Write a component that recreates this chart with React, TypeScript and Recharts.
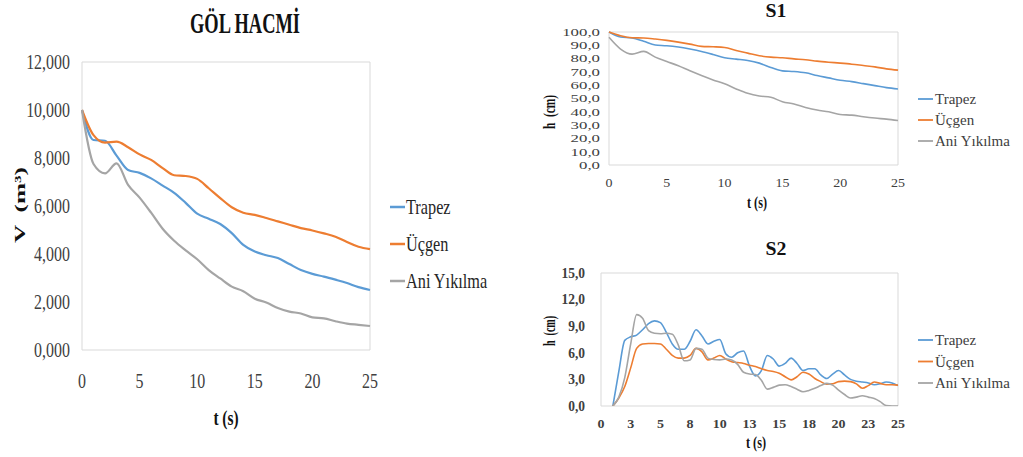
import React from 'react';
import { LineChart, Line, XAxis, YAxis, ReferenceArea } from 'recharts';

// ---------- DATA ----------
const tLeft = [0, 1, 2, 3, 4, 5, 6, 7, 8, 9, 10, 11, 12, 13, 14, 15, 16, 17, 18, 19, 20, 21, 22, 23, 24, 25];
const volTrapez = [10.0, 8.75, 8.72, 8.1, 7.5, 7.38, 7.15, 6.85, 6.55, 6.13, 5.68, 5.47, 5.25, 4.87, 4.38, 4.1, 3.95, 3.83, 3.58, 3.33, 3.17, 3.06, 2.93, 2.79, 2.62, 2.5];
const volUcgen = [10.0, 8.95, 8.64, 8.68, 8.45, 8.15, 7.92, 7.58, 7.28, 7.25, 7.13, 6.74, 6.33, 5.95, 5.72, 5.63, 5.5, 5.36, 5.22, 5.08, 4.98, 4.86, 4.72, 4.5, 4.3, 4.2];
const volAni = [10.0, 7.75, 7.36, 7.78, 6.88, 6.35, 5.72, 5.05, 4.55, 4.15, 3.78, 3.33, 2.98, 2.64, 2.45, 2.14, 1.98, 1.75, 1.6, 1.52, 1.36, 1.32, 1.2, 1.1, 1.05, 1.0];

const tS1 = [0, 1, 2, 3, 4, 5, 6, 7, 8, 9, 10, 11, 12, 13, 14, 15, 16, 17, 18, 19, 20, 21, 22, 23, 24, 25];
const s1Trapez = [100, 96.2, 95.5, 93.0, 90.2, 89.7, 88.7, 87.2, 85.4, 83.1, 80.6, 79.6, 78.6, 76.6, 73.3, 70.8, 70.3, 69.3, 67.3, 65.5, 63.7, 62.7, 61.2, 59.7, 58.2, 57.2];
const s1Ucgen = [100, 97.2, 95.7, 95.5, 94.7, 93.7, 92.4, 90.9, 89.2, 88.9, 88.4, 86.1, 84.1, 82.1, 81.1, 80.6, 79.8, 79.1, 78.1, 77.3, 76.6, 75.8, 74.8, 73.8, 72.3, 71.3];
const s1Ani = [96, 87.2, 83.4, 85.4, 81.1, 77.8, 74.6, 70.8, 67.3, 64, 61, 57.2, 53.9, 51.9, 50.9, 47.6, 45.8, 43.3, 41.3, 40, 38, 37.5, 36.3, 35.3, 34.5, 33.5];

const tS2 = [1, 1.5, 2, 2.5, 3, 3.5, 4, 4.5, 5, 5.5, 6, 6.5, 7, 7.5, 8, 8.5, 9, 9.5, 10, 10.5, 11, 11.5, 12, 12.5, 13, 13.5, 14, 14.5, 15, 15.5, 16, 16.5, 17, 17.5, 18, 18.5, 19, 19.5, 20, 20.5, 21, 21.5, 22, 22.5, 23, 23.5, 24, 24.5, 25];
const s2Trapez = [0, 3.9, 7.4, 7.8, 8.0, 8.6, 9.3, 9.6, 9.4, 8.3, 7.0, 6.4, 6.4, 7.3, 8.6, 7.9, 7.0, 7.3, 7.5, 5.9, 5.5, 6.0, 6.2, 4.5, 3.4, 4.0, 5.7, 5.3, 4.5, 4.8, 5.4, 4.8, 4.0, 4.2, 4.2, 3.5, 3.1, 3.6, 4.0, 3.5, 3.0, 2.8, 2.7, 2.6, 2.4, 2.5, 2.7, 2.6, 2.3];
const s2Ucgen = [0, 0.9, 2.2, 4.3, 6.5, 7.0, 7.05, 7.05, 7.0, 6.4, 5.7, 5.4, 5.4, 5.7, 6.5, 6.1, 5.2, 5.4, 5.7, 5.3, 5.0, 4.9, 4.8, 4.6, 4.45, 4.2, 4.0, 3.9, 3.7, 3.3, 2.95, 3.3, 3.8, 3.6, 3.1, 2.75, 2.45, 2.5, 2.75, 2.8, 2.75, 2.5, 2.0, 2.3, 2.7, 2.55, 2.4, 2.4, 2.35];
const s2Ani = [0, 1.0, 3.2, 7.0, 10.3, 9.9, 8.5, 8.2, 8.15, 8.2, 8.1, 6.9, 5.1, 5.2, 6.5, 6.4, 5.4, 5.25, 5.2, 5.3, 5.2, 4.7, 3.8, 3.6, 3.55, 2.9, 1.9, 2.1, 2.35, 2.4, 2.2, 1.9, 1.6, 1.75, 2.0, 2.3, 2.55, 2.35, 1.8, 1.3, 0.9, 1.0, 1.15, 1.0, 0.85, 0.5, 0.05, 0, 0];

const leftXTicks = [0, 5, 10, 15, 20, 25];
const leftYTicks = [0, 2, 4, 6, 8, 10, 12];
const s1XTicks = [0, 5, 10, 15, 20, 25];
const s1YTicks = [0, 10, 20, 30, 40, 50, 60, 70, 80, 90, 100];
const s2XTicks = [0, 2.5, 5, 7.5, 10, 12.5, 15, 17.5, 20, 22.5, 25];
const s2YTicks = [0, 3, 6, 9, 12, 15];

const seriesNames = ['Trapez', 'Üçgen', 'Ani Yıkılma'];
const colors = ['#5B9BD5', '#ED7D31', '#A5A5A5'];

const leftData = tLeft.map((t, i) => ({ t, trapez: volTrapez[i], ucgen: volUcgen[i], ani: volAni[i] }));
const s1Data = tS1.map((t, i) => ({ t, trapez: s1Trapez[i], ucgen: s1Ucgen[i], ani: s1Ani[i] }));
const s2Data = tS2.map((t, i) => ({ t, trapez: s2Trapez[i], ucgen: s2Ucgen[i], ani: s2Ani[i] }));

const FONT = "'Liberation Serif', 'Times New Roman', serif";
const keys = ['trapez', 'ucgen', 'ani'];

const comma = (v: number, d: number) => v.toFixed(d).replace('.', ',');

function makeTick(fs: number, sx: number, sy: number, anchor: string, isY: boolean, fmt: (v: number) => string, fill = '#404040', bold = false) {
  return (props: any) => {
    const { x, y, payload } = props;
    const yy = isY ? y + 0.34 * fs * sy : y;
    return (
      <text
        transform={`translate(${x},${yy}) scale(${sx},${sy})`}
        fontSize={fs}
        fontFamily={FONT}
        fontWeight={bold ? 'bold' : 'normal'}
        textAnchor={anchor as any}
        fill={fill}
      >
        {fmt(payload.value)}
      </text>
    );
  };
}

type TProps = {
  x: number; y: number; fs: number; sx?: number; sy?: number; rot?: number;
  anchor?: 'start' | 'middle' | 'end'; bold?: boolean; fill?: string; len?: number; children: React.ReactNode;
};
const T = ({ x, y, fs, sx = 1, sy = 1, rot, anchor = 'start', bold, fill = '#262626', len, children }: TProps) => (
  <text
    transform={`translate(${x},${y})${rot ? ` rotate(${rot})` : ''} scale(${sx},${sy})`}
    fontSize={fs}
    fontFamily={FONT}
    fontWeight={bold ? 'bold' : 'normal'}
    textAnchor={anchor}
    fill={fill}
    textLength={len}
    lengthAdjust={len ? 'spacingAndGlyphs' : undefined}
    style={{ whiteSpace: 'pre' }}
  >
    {children}
  </text>
);

const abs: React.CSSProperties = { position: 'absolute', left: 0, top: 0 };

const W = 1023;
const H = 457;

export default function App() {
  return (
    <div style={{ position: 'absolute', left: 0, top: 0, width: W, height: H, background: '#fff', overflow: 'hidden' }}>
      {/* Left chart: GÖL HACMİ */}
      <div style={abs}>
        <LineChart width={W} height={H} data={leftData} margin={{ left: 22, right: W - 370, top: 62, bottom: 77 }}>
          <XAxis
            type="number" dataKey="t" domain={[0, 25]} ticks={leftXTicks} interval={0}
            axisLine={false} tickLine={false} tickSize={0} tickMargin={38} height={30}
            tick={makeTick(21, 0.76, 1, 'middle', false, (v) => String(v))}
          />
          <YAxis
            type="number" domain={[0, 12]} ticks={leftYTicks} interval={0} width={60}
            axisLine={false} tickLine={false} tickSize={0} tickMargin={12}
            tick={makeTick(21, 0.76, 1, 'end', true, (v) => comma(v, 3))}
          />
          <ReferenceArea x1={0} x2={25} y1={0} y2={12} fill="none" stroke="#d9d9d9" strokeWidth={1} ifOverflow="visible" />
          {keys.map((k, i) => (
            <Line key={k} type="monotone" dataKey={k} stroke={colors[i]} strokeWidth={2.2} dot={false} isAnimationActive={false} />
          ))}
        </LineChart>
      </div>

      {/* S1 chart */}
      <div style={abs}>
        <LineChart width={W} height={H} data={s1Data} margin={{ left: 569, right: W - 898, top: 32, bottom: 272 }}>
          <XAxis
            type="number" dataKey="t" domain={[0, 25]} ticks={s1XTicks} interval={0}
            axisLine={false} tickLine={false} tickSize={0} tickMargin={22} height={20}
            tick={makeTick(14, 1, 0.85, 'middle', false, (v) => String(v))}
          />
          <YAxis
            type="number" domain={[0, 100]} ticks={s1YTicks} interval={0} width={40}
            axisLine={false} tickLine={false} tickSize={0} tickMargin={9}
            tick={makeTick(14, 1.2, 0.8, 'end', true, (v) => comma(v, 1))}
          />
          <ReferenceArea x1={0} x2={25} y1={0} y2={100} fill="none" stroke="#d9d9d9" strokeWidth={1} ifOverflow="visible" />
          {keys.map((k, i) => (
            <Line key={k} type="monotone" dataKey={k} stroke={colors[i]} strokeWidth={1.6} dot={false} isAnimationActive={false} />
          ))}
        </LineChart>
      </div>

      {/* S2 chart */}
      <div style={abs}>
        <LineChart width={W} height={H} data={s2Data} margin={{ left: 561, right: W - 898, top: 273, bottom: 31 }}>
          <XAxis
            type="number" dataKey="t" domain={[0, 25]} ticks={s2XTicks} interval={0}
            axisLine={false} tickLine={false} tickSize={0} tickMargin={22} height={20}
            tick={makeTick(14, 1, 0.9, 'middle', false, (v) => String(Math.round(v)), '#404040', true)}
          />
          <YAxis
            type="number" domain={[0, 15]} ticks={s2YTicks} interval={0} width={40} allowDataOverflow
            axisLine={false} tickLine={false} tickSize={0} tickMargin={16}
            tick={makeTick(15, 0.9, 0.95, 'end', true, (v) => comma(v, 1), '#404040', true)}
          />
          <ReferenceArea x1={0} x2={25} y1={0} y2={15} fill="none" stroke="#d9d9d9" strokeWidth={1} ifOverflow="visible" />
          {keys.map((k, i) => (
            <Line key={k} type="monotone" dataKey={k} stroke={colors[i]} strokeWidth={1.6} dot={false} isAnimationActive={false} />
          ))}
        </LineChart>
      </div>

      {/* Text overlay: titles, axis titles, legends */}
      <svg width={W} height={H} style={{ ...abs, pointerEvents: 'none' }}>
        {/* Left */}
        <T x={245} y={33} fs={29} bold anchor="middle" len={110} fill="#111">GÖL HACMİ</T>
        <T x={226} y={425} fs={22} bold anchor="middle" sx={0.7} fill="#111">t (s)</T>
        <T x={25} y={205} rot={-90} fs={15} bold anchor="middle" len={76} fill="#111">{'V  (m³)'}</T>
        {seriesNames.map((n, i) => {
          const cy = [207, 244, 281][i];
          return (
            <g key={n}>
              <line x1={390} x2={405} y1={cy} y2={cy} stroke={colors[i]} strokeWidth={2.5} />
              <T x={406} y={cy + 7.3} fs={22} sx={0.74}>{n}</T>
            </g>
          );
        })}

        {/* S1 */}
        <T x={776} y={16.5} fs={18} sx={1.1} bold anchor="middle" fill="#111">S1</T>
        <T x={757} y={208} fs={16} bold anchor="middle" len={20} fill="#111">t (s)</T>
        <T x={555} y={112} rot={-90} fs={16} bold anchor="middle" len={34} fill="#111">{'h  (cm)'}</T>
        {seriesNames.map((n, i) => {
          const cy = [99, 120, 141][i];
          return (
            <g key={n}>
              <line x1={918} x2={933} y1={cy} y2={cy} stroke={colors[i]} strokeWidth={1.8} />
              <T x={935} y={cy + 5} fs={15} fill="#404040">{n}</T>
            </g>
          );
        })}

        {/* S2 */}
        <T x={776} y={255} fs={18} sx={1.1} bold anchor="middle" fill="#111">S2</T>
        <T x={756} y={448} fs={16} bold anchor="middle" len={20} fill="#111">t (s)</T>
        <T x={555} y={331} rot={-90} fs={16} bold anchor="middle" len={30} fill="#111">{'h  (cm)'}</T>
        {seriesNames.map((n, i) => {
          const cy = [340, 361.5, 383][i];
          return (
            <g key={n}>
              <line x1={918} x2={933} y1={cy} y2={cy} stroke={colors[i]} strokeWidth={1.8} />
              <T x={935} y={cy + 5} fs={15} fill="#404040">{n}</T>
            </g>
          );
        })}
      </svg>
    </div>
  );
}
